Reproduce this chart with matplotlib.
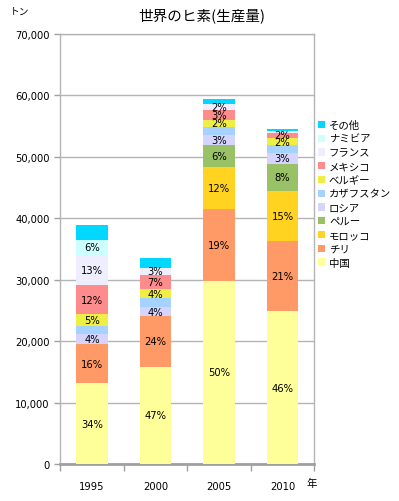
import matplotlib
matplotlib.use("Agg")
import matplotlib.pyplot as plt
from matplotlib.ticker import FuncFormatter, FixedLocator
from matplotlib.patches import Patch
import numpy as np

years = ["1995", "2000", "2005", "2010"]
series_names = ["中国", "チリ", "モロッコ", "ペルー", "ロシア", "カザフスタン",
                "ベルギー", "メキシコ", "フランス", "ナミビア", "その他"]
china      = [13200, 15900, 29900, 24900]
chile      = [6300, 8200, 11560, 11500]
morocco    = [0, 0, 6900, 8050]
peru       = [0, 0, 3520, 4450]
russia     = [1630, 1450, 1630, 1700]
kazakhstan = [1370, 1500, 1370, 1350]
belgium    = [2000, 1450, 1190, 1090]
mexico     = [4600, 2330, 1630, 930]
france     = [5000, 1100, 980, 210]
namibia    = [2350, 0, 0, 0]
other      = [2450, 1630, 810, 330]
labeled = [True, True, True, True, True, False, True, True, True, True, False]

colors = ["#FFFF99", "#FF9966", "#FFD320", "#99C266", "#D4D4FF", "#A6D2FF",
          "#EEEE44", "#FF8C8C", "#EEEEFF", "#CCFFFF", "#00D8FF"]

data = [china, chile, morocco, peru, russia, kazakhstan, belgium, mexico,
        france, namibia, other]

jp = ["Noto Sans CJK JP", "DejaVu Sans"]

fig = plt.figure(figsize=(3.99, 5.02), dpi=100)
ax = fig.add_axes([60.3/399, 1-465.3/502, 254/399, 430.3/502])

x = np.arange(len(years))
totals = np.sum(np.array(data, dtype=float), axis=0)
bottom = np.zeros(len(years))
for name, vals, col, lab in zip(series_names, data, colors, labeled):
    v = np.array(vals, dtype=float)
    ax.bar(x, v, 0.5, bottom=bottom, color=col, edgecolor="none", zorder=3)
    if lab:
        for i in range(len(years)):
            pct = int(round(v[i] / totals[i] * 100))
            if v[i] > 0 and pct >= 1:
                ax.text(x[i], bottom[i] + v[i]/2, f"{pct}%", ha="center",
                        va="center", fontsize=7.2, color="black", zorder=4,
                        family="DejaVu Sans")
    bottom += v

ax.set_xlim(-0.5, len(years) - 0.5)
ax.set_ylim(0, 70000)
ax.set_yticks(np.arange(0, 70001, 10000))
ax.yaxis.set_major_formatter(FuncFormatter(lambda v, p: f"{int(v):,}"))
ax.grid(axis="y", color="#B4B4B4", linewidth=1.0, zorder=0)
ax.set_axisbelow(True)

ax.set_xticks(x)
ax.set_xticklabels(years)
ax.xaxis.set_minor_locator(FixedLocator(np.arange(-0.5, len(years), 1.0)))
ax.tick_params(axis="x", which="major", length=0, pad=12, labelsize=7.2)
ax.tick_params(axis="x", which="minor", length=5, color="#A0A0A0", width=1)
ax.tick_params(axis="y", which="major", length=4.3, color="#A0A0A0", width=1,
               pad=3.5, labelsize=7.2)
for s in ["left", "right", "top"]:
    ax.spines[s].set_color("#B4B4B4")
    ax.spines[s].set_linewidth(1.0)
ax.spines["bottom"].set_color("#A0A0A0")
ax.spines["bottom"].set_linewidth(2.0)

fig.text(202/399, 1-16/502, "世界のヒ素(生産量)", ha="center", va="center",
         fontsize=10.5, family=jp)
fig.text(20/399, 1-12/502, "トン", ha="center", va="center",
         fontsize=7, family=jp)
fig.text(312/399, 1-484/502, "年", ha="center", va="center",
         fontsize=7.5, family=jp)

handles = [Patch(facecolor=c, edgecolor="none") for c in colors]
leg = fig.legend(handles[::-1], series_names[::-1], loc="upper left",
                 bbox_to_anchor=(318/399, 1-121/502), frameon=False,
                 prop={"family": jp, "size": 7.5}, handlelength=0.7,
                 handleheight=0.7, handletextpad=0.35, labelspacing=0.36,
                 borderaxespad=0, borderpad=0)

fig.savefig("out.png", dpi=100)
